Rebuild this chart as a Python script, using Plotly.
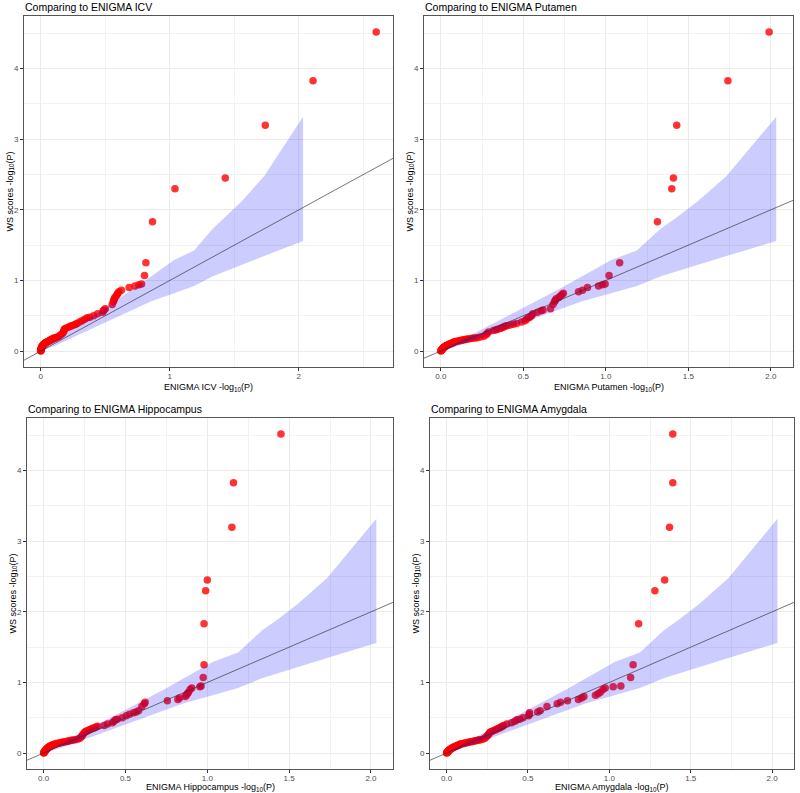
import plotly.graph_objects as go

# ---------------- data ----------------
ws_scores = [4.52, 3.83, 3.20, 2.45, 2.30, 1.83, 1.25, 1.07, 0.95, 0.94, 0.92, 0.90, 0.86, 0.84,
             0.82, 0.80, 0.78, 0.76, 0.74, 0.72, 0.70, 0.66, 0.60, 0.58, 0.57, 0.55, 0.53, 0.50,
             0.48, 0.47, 0.45, 0.43, 0.41, 0.39, 0.38, 0.37, 0.36, 0.35, 0.34, 0.33, 0.32, 0.31,
             0.30, 0.29, 0.27, 0.25, 0.23, 0.21, 0.20, 0.19, 0.185, 0.18, 0.175, 0.17, 0.165,
             0.16, 0.155, 0.15, 0.145, 0.14, 0.135, 0.13, 0.125, 0.12, 0.115, 0.11, 0.105, 0.10,
             0.095, 0.09, 0.085, 0.08, 0.075, 0.07, 0.065, 0.06, 0.055, 0.05, 0.045, 0.04, 0.035,
             0.03, 0.025, 0.02, 0.015, 0.01, 0.005, 0.0]

icv = [2.60, 2.11, 1.74, 1.43, 1.04, 0.866, 0.815, 0.804, 0.781, 0.76, 0.73, 0.685, 0.625, 0.605,
       0.598, 0.592, 0.585, 0.575, 0.57, 0.566, 0.562, 0.553, 0.50, 0.49, 0.485, 0.48, 0.44, 0.41,
       0.38, 0.36, 0.34, 0.32, 0.30, 0.28, 0.27, 0.255, 0.24, 0.23, 0.218, 0.205, 0.19, 0.185,
       0.182, 0.18, 0.176, 0.168, 0.155, 0.14, 0.13, 0.115, 0.11, 0.10, 0.095, 0.09, 0.085,
       0.08, 0.075, 0.07, 0.065, 0.06, 0.055, 0.05, 0.045, 0.04, 0.036, 0.032, 0.029, 0.026,
       0.023, 0.02, 0.018, 0.016, 0.014, 0.012, 0.010, 0.009, 0.008, 0.007, 0.006, 0.005, 0.004,
       0.003, 0.002, 0.002, 0.001, 0.001, 0.0, 0.0]

putamen = [1.99, 1.74, 1.43, 1.41, 1.40, 1.313, 1.084, 1.02, 0.996, 0.98, 0.956, 0.889, 0.859, 0.835,
           0.743, 0.735, 0.725, 0.715, 0.70, 0.695, 0.689, 0.68, 0.665, 0.62, 0.608, 0.585, 0.558,
           0.55, 0.54, 0.53, 0.52, 0.51, 0.49, 0.46, 0.44, 0.42, 0.40, 0.39, 0.38, 0.37, 0.36,
           0.345, 0.335, 0.32, 0.29, 0.28, 0.275, 0.26, 0.24, 0.22, 0.205, 0.19, 0.175, 0.16,
           0.15, 0.14, 0.13, 0.12, 0.11, 0.10, 0.09, 0.085, 0.08, 0.075, 0.07, 0.065, 0.06, 0.055,
           0.05, 0.045, 0.04, 0.036, 0.032, 0.029, 0.026, 0.023, 0.02, 0.018, 0.016, 0.014, 0.012,
           0.010, 0.008, 0.006, 0.004, 0.003, 0.002, 0.0]

hippocampus = [1.45, 1.16, 1.15, 1.0, 0.99, 0.98, 0.98, 0.975, 0.962, 0.955, 0.905, 0.895, 0.885,
               0.878, 0.872, 0.865, 0.83, 0.82, 0.756, 0.62, 0.615, 0.60, 0.58, 0.565, 0.55, 0.525,
               0.505, 0.48, 0.45, 0.44, 0.43, 0.42, 0.39, 0.37, 0.33, 0.32, 0.31, 0.30, 0.29, 0.28,
               0.27, 0.26, 0.255, 0.25, 0.242, 0.236, 0.23, 0.222, 0.21, 0.195, 0.18, 0.17, 0.16,
               0.15, 0.14, 0.13, 0.12, 0.11, 0.10, 0.09, 0.08, 0.075, 0.068, 0.06, 0.055, 0.05,
               0.045, 0.042, 0.038, 0.035, 0.032, 0.029, 0.026, 0.024, 0.022, 0.02, 0.018, 0.016,
               0.014, 0.012, 0.010, 0.008, 0.007, 0.005, 0.004, 0.003, 0.001, 0.0]

amygdala = [1.39, 1.39, 1.37, 1.34, 1.28, 1.18, 1.146, 1.131, 1.071, 1.024, 0.975, 0.961, 0.945,
            0.931, 0.915, 0.844, 0.83, 0.81, 0.743, 0.70, 0.68, 0.617, 0.575, 0.56, 0.51, 0.508,
            0.505, 0.47, 0.45, 0.433, 0.42, 0.40, 0.37, 0.35, 0.344, 0.335, 0.328, 0.32, 0.31,
            0.302, 0.29, 0.28, 0.272, 0.265, 0.26, 0.252, 0.245, 0.235, 0.225, 0.21, 0.20, 0.19,
            0.18, 0.17, 0.16, 0.15, 0.14, 0.13, 0.12, 0.11, 0.10, 0.09, 0.085, 0.08, 0.075, 0.07,
            0.065, 0.06, 0.055, 0.05, 0.046, 0.042, 0.038, 0.034, 0.03, 0.027, 0.024, 0.021,
            0.018, 0.016, 0.014, 0.012, 0.01, 0.008, 0.006, 0.004, 0.002, 0.0]

# 90% confidence band of expected -log10(P)
band_x = [2.033, 1.732, 1.556, 1.431, 1.334, 1.188, 1.033, 0.857, 0.732, 0.556, 0.431, 0.255,
          0.130, 0.0334, 0.004]
band_hi = [3.32, 2.479, 2.117, 1.894, 1.735, 1.425, 1.29, 1.058, 0.896, 0.680, 0.531, 0.321,
           0.173, 0.0555, 0.0122]
band_lo = [1.559, 1.348, 1.222, 1.131, 1.058, 0.921, 0.818, 0.705, 0.602, 0.456, 0.350, 0.198,
           0.094, 0.0168, 0.0002]

panels = [
    ("ICV", icv),
    ("Putamen", putamen),
    ("Hippocampus", hippocampus),
    ("Amygdala", amygdala),
]

# ---------------- layout geometry (pixels) ----------------
W, H = 800, 793
boxes = [  # left, top, right, bottom
    (24, 16, 393, 367),
    (424, 16, 793, 367),
    (27, 418, 393, 769),
    (430, 418, 794, 769),
]
xtitle_gap = [20, 20, 18, 18]

fig = go.Figure()
layout = dict(
    width=W, height=H,
    margin=dict(l=0, r=0, t=0, b=0),
    paper_bgcolor="white", plot_bgcolor="white",
    showlegend=False,
    font=dict(family="Liberation Sans, Arial, sans-serif"),
    annotations=[],
)

for i, (name, xs) in enumerate(panels):
    k = "" if i == 0 else str(i + 1)
    xa, ya = "x" + k, "y" + k
    l, t, r, b = boxes[i]

    # points
    fig.add_trace(go.Scatter(
        x=xs, y=ws_scores, mode="markers", xaxis=xa, yaxis=ya,
        marker=dict(color="rgba(255,0,0,0.8)", size=7.5, line=dict(width=0)),
        hoverinfo="skip"))
    # band on top
    fig.add_trace(go.Scatter(
        x=band_x + band_x[::-1], y=band_hi + band_lo[::-1], mode="lines",
        fill="toself", fillcolor="rgba(0,0,255,0.2)", line=dict(width=0),
        xaxis=xa, yaxis=ya, hoverinfo="skip"))

    xmax = max(max(xs), max(band_x))
    xmin = min(min(xs), min(band_x))
    ymax = max(max(ws_scores), max(band_hi))
    ymin = min(min(ws_scores), min(band_lo))
    xr = [xmin - 0.05 * (xmax - xmin), xmax + 0.05 * (xmax - xmin)]
    yr = [ymin - 0.05 * (ymax - ymin), ymax + 0.05 * (ymax - ymin)]

    # identity line
    fig.add_trace(go.Scatter(
        x=[xr[0] - 1, xr[1] + 1], y=[xr[0] - 1, xr[1] + 1], mode="lines",
        line=dict(color="rgba(50,50,50,0.75)", width=0.9),
        xaxis=xa, yaxis=ya, hoverinfo="skip"))

    xdt = 1 if name == "ICV" else 0.5
    common = dict(
        showline=True, linecolor="#555555", linewidth=1, mirror=True,
        ticks="outside", ticklen=3, tickcolor="#333333", tickwidth=1,
        tickfont=dict(size=8, color="#4d4d4d"),
        showgrid=True, gridcolor="#ebebeb", gridwidth=1,
        zeroline=False,
    )
    layout["xaxis" + k] = dict(
        common, domain=[l / W, r / W], anchor=ya, range=xr,
        tick0=0, dtick=xdt, tickformat=".0f" if name == "ICV" else ".1f",
        ticklabelstandoff=-2,
        minor=dict(showgrid=True, gridcolor="#f2f2f2", gridwidth=0.6, tick0=xdt / 2, dtick=xdt),
    )
    layout["yaxis" + k] = dict(
        common, domain=[1 - b / H, 1 - t / H], anchor=xa, range=yr,
        tick0=0, dtick=1, tickformat=".0f",
        minor=dict(showgrid=True, gridcolor="#f2f2f2", gridwidth=0.6, tick0=0.5, dtick=1),
    )

    # panel title
    layout["annotations"].append(dict(
        text="Comparing to ENIGMA " + name, xref="paper", yref="paper",
        x=(l - 1) / W, y=1 - (t - 9.5) / H, xanchor="left", yanchor="middle",
        showarrow=False, font=dict(size=10.5, color="black")))
    # x-axis title
    layout["annotations"].append(dict(
        text="ENIGMA " + name + " -log<sub>10</sub>(P)", xref="paper", yref="paper",
        x=(l + r) / 2 / W, y=1 - (b + xtitle_gap[i]) / H, xanchor="center", yanchor="middle",
        showarrow=False, font=dict(size=9, color="black")))
    # y-axis title
    layout["annotations"].append(dict(
        text="WS scores -log<sub>10</sub>(P)", xref="paper", yref="paper",
        x=(l - 14) / W, y=1 - (t + b) / 2 / H, xanchor="center", yanchor="middle",
        textangle=-90, showarrow=False, font=dict(size=9, color="black")))

fig.update_layout(**layout)
fig.write_html(
    "out.html",
    config={"displayModeBar": False},
    post_script="document.body.style.margin='0';document.body.style.padding='0';"
                "document.body.style.overflow='hidden';",
)
